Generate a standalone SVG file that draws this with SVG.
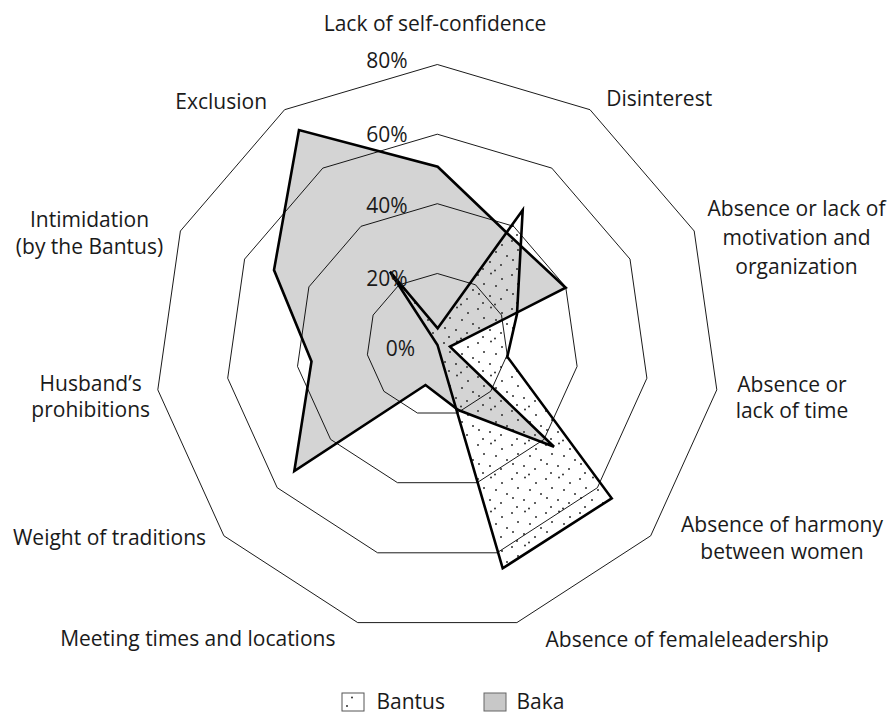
<svg xmlns="http://www.w3.org/2000/svg" width="890" height="715" viewBox="0 0 890 715">
<style>
.lbl{font-family:"Open Sans","Liberation Sans",sans-serif;font-size:21px;fill:#1a1a1a}
.mid{text-anchor:middle}
.end{text-anchor:end}
.ring{fill:none;stroke:#000;stroke-width:0.9}
.series{fill:none;stroke:#000;stroke-width:2.6;stroke-linejoin:miter}
</style>
<defs>
<pattern id="dots" x="0" y="0" width="34" height="34" patternUnits="userSpaceOnUse">
<g fill="#2e2e2e">
<circle cx="2" cy="3" r="1"/><circle cx="15" cy="1.5" r="1"/><circle cx="26" cy="7" r="1"/>
<circle cx="8" cy="12" r="1"/><circle cx="20" cy="14" r="1"/><circle cx="31" cy="18" r="1"/>
<circle cx="3" cy="22" r="1"/><circle cx="14" cy="24" r="1"/><circle cx="25" cy="27" r="1"/>
<circle cx="7" cy="31" r="1"/><circle cx="19" cy="32.5" r="1"/>
</g>
</pattern>
</defs>
<rect width="890" height="715" fill="#fff"/>

<g id="baka-fill">
<polygon fill="#d4d4d4" points="437.7,166.7 508,234 565.7,287.7 450,346.7 554,446.7 458.3,410 425.5,385 294.3,471 311.5,361.5 274,270 299,130"/>
</g>
<g id="bantus-fill">
<polygon fill="url(#dots)" points="437.7,328.3 522.7,210 517,314 507.3,356.7 611.7,498.3 502.7,568.3 437.5,345 437.5,345 437.5,345 437.5,345 390,271.7"/>
</g>

<g id="grid">
<polygon class="ring" points="437.3,273.5 475.5,284.8 501.5,315.1 507.2,354.8 490.7,391.3 457.2,413 417.4,413 383.9,391.3 367.4,354.8 373.1,315.1 399.1,284.8"/>
<polygon class="ring" points="437.3,203.7 513.6,226.3 565.7,286.9 577.1,366.4 544,439.4 477.1,482.7 397.5,482.7 330.6,439.4 297.5,366.4 308.9,286.9 361,226.3"/>
<polygon class="ring" points="437.3,134.2 551.8,168.1 630,259.1 646.9,378.2 597.4,487.7 497,552.8 377.6,552.8 277.2,487.7 227.7,378.2 244.6,259.1 322.8,168.1"/>
<polygon class="ring" points="437.3,64.5 590,109.7 694.2,231 716.8,389.8 650.7,535.8 516.9,622.6 357.7,622.6 223.9,535.8 157.8,389.8 180.4,231 284.6,109.7"/>
</g>

<g id="series-baka">
<polygon class="series" points="437.7,166.7 508,234 565.7,287.7 450,346.7 554,446.7 458.3,410 425.5,385 294.3,471 311.5,361.5 274,270 299,130"/>
</g>
<g id="series-bantus">
<polygon class="series" points="437.7,328.3 522.7,210 517,314 507.3,356.7 611.7,498.3 502.7,568.3 437.5,345 390,271.7"/>
</g>

<g id="axis-values">
<text class="lbl end" x="407.5" y="68.3">80%</text>
<text class="lbl end" x="407.5" y="142.2">60%</text>
<text class="lbl end" x="407.5" y="212.8">40%</text>
<text class="lbl end" x="407.5" y="285.8">20%</text>
<text class="lbl end" x="415" y="355.5">0%</text>
</g>

<g id="categories">
<text class="lbl mid" x="435" y="31">Lack of self-confidence</text>
<text class="lbl mid" x="659.2" y="105.6">Disinterest</text>
<text class="lbl mid" x="796.5" y="215.7">Absence or lack of</text>
<text class="lbl mid" x="796.5" y="244.8">motivation and</text>
<text class="lbl mid" x="796.5" y="273.8">organization</text>
<text class="lbl mid" x="792" y="392">Absence or</text>
<text class="lbl mid" x="792" y="418.3">lack of time</text>
<text class="lbl mid" x="782" y="532">Absence of harmony</text>
<text class="lbl mid" x="782" y="559">between women</text>
<text class="lbl mid" x="687.2" y="646.8">Absence of femaleleadership</text>
<text class="lbl mid" x="197.8" y="646.3">Meeting times and locations</text>
<text class="lbl mid" x="109.5" y="544.5">Weight of traditions</text>
<text class="lbl mid" x="90.7" y="390.5">Husband’s</text>
<text class="lbl mid" x="90.7" y="417.1">prohibitions</text>
<text class="lbl mid" x="89.5" y="226.9">Intimidation</text>
<text class="lbl mid" x="89.5" y="253.9">(by the Bantus)</text>
<text class="lbl mid" x="221.2" y="108.5">Exclusion</text>
</g>

<g id="legend">
<g id="legend-bantus">
<rect x="342" y="693" width="22" height="18" fill="#fff" stroke="#555" stroke-width="1"/>
<circle cx="352" cy="697.5" r="1" fill="#2e2e2e"/><circle cx="347" cy="706" r="1" fill="#2e2e2e"/>
<text class="lbl" x="376.5" y="708.5">Bantus</text>
</g>
<g id="legend-baka">
<rect x="484" y="693" width="22" height="18" fill="#c8c8c8" stroke="#666" stroke-width="1"/>
<text class="lbl" x="516.5" y="708.5">Baka</text>
</g>
</g>
</svg>
